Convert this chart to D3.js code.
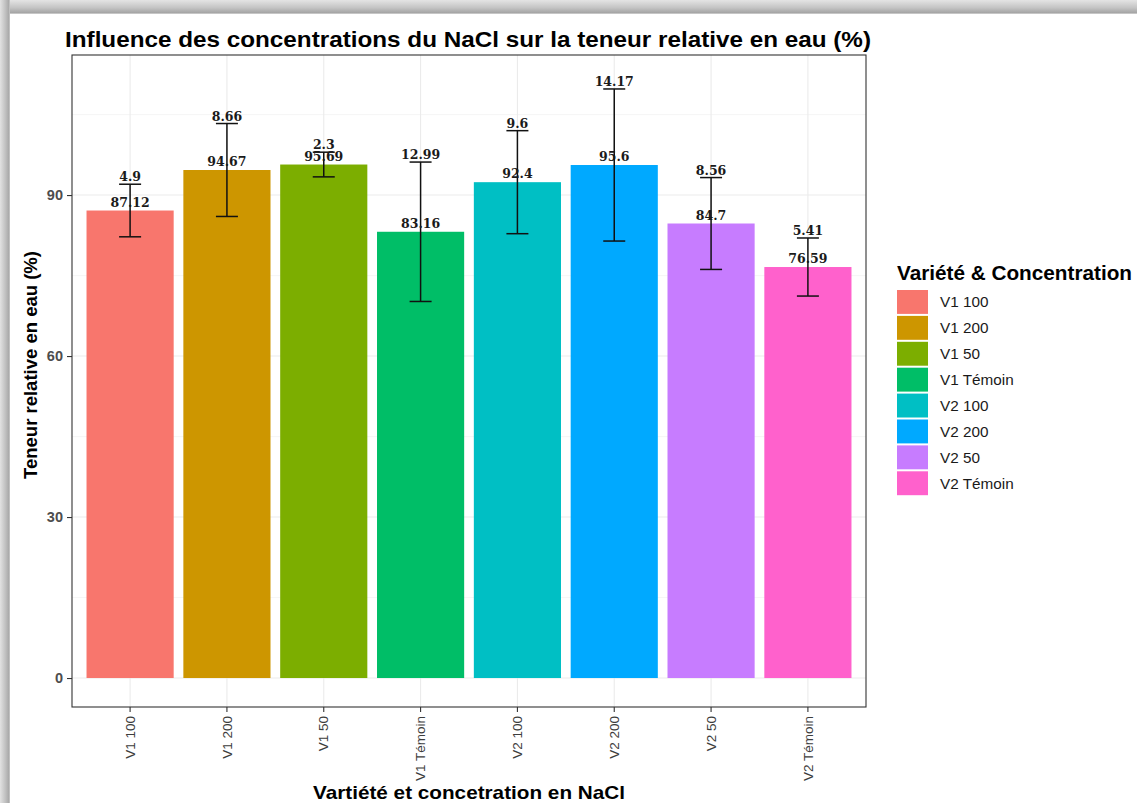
<!DOCTYPE html>
<html>
<head>
<meta charset="utf-8">
<script src="https://cdn.jsdelivr.net/npm/d3@7"></script>
<style>
  html, body { margin: 0; padding: 0; background: #ffffff; }
  svg { display: block; }
</style>
</head>
<body>
<svg id="chart" width="1137" height="803"></svg>
<script>
// Teneur relative en eau par variété et concentration de NaCl
const categories = ["V1 100", "V1 200", "V1 50", "V1 Témoin", "V2 100", "V2 200", "V2 50", "V2 Témoin"];
const means      = [87.12, 94.67, 95.69, 83.16, 92.4, 95.6, 84.7, 76.59];
const sds        = [4.9, 8.66, 2.3, 12.99, 9.6, 14.17, 8.56, 5.41];
const colors     = ["#F8766D", "#CD9600", "#7CAE00", "#00BE67", "#00BFC4", "#00A9FF", "#C77CFF", "#FF61CC"];
const yTicks     = [0, 30, 60, 90];
const yMinor     = [15, 45, 75, 105];

const titleText   = "Influence des concentrations du NaCl sur la teneur relative en eau (%)";
const xTitle      = "Vartiété et concetration en NaCl";
const yTitle      = "Teneur relative en eau (%)";
const legendTitle = "Variété & Concentration";

const rows = categories.map((c, i) => ({ cat: c, mean: means[i], sd: sds[i], color: colors[i] }));

const W = 1137, H = 803;
const panel = { left: 72, right: 866, top: 55, bottom: 707 };

const svg = d3.select("#chart");
const defs = svg.append("defs");

// page frame: soft grey edges along the top and the left
const gTop = defs.append("linearGradient").attr("id", "edgeTop").attr("x1", 0).attr("y1", 0).attr("x2", 0).attr("y2", 1);
gTop.append("stop").attr("offset", "0%").attr("stop-color", "#e4e4e4");
gTop.append("stop").attr("offset", "55%").attr("stop-color", "#c4c4c4");
gTop.append("stop").attr("offset", "90%").attr("stop-color", "#a6a6a6");
gTop.append("stop").attr("offset", "100%").attr("stop-color", "#d8d8d8");
const gLeft = defs.append("linearGradient").attr("id", "edgeLeft").attr("x1", 0).attr("y1", 0).attr("x2", 1).attr("y2", 0);
gLeft.append("stop").attr("offset", "0%").attr("stop-color", "#e2e2e2");
gLeft.append("stop").attr("offset", "55%").attr("stop-color", "#c0c0c0");
gLeft.append("stop").attr("offset", "90%").attr("stop-color", "#a8a8a8");
gLeft.append("stop").attr("offset", "100%").attr("stop-color", "#d8d8d8");

svg.append("rect").attr("width", W).attr("height", H).attr("fill", "#ffffff");
svg.append("rect").attr("x", 0).attr("y", 0).attr("width", W).attr("height", 14).attr("fill", "url(#edgeTop)");
svg.append("rect").attr("x", 0).attr("y", 0).attr("width", 10).attr("height", H).attr("fill", "url(#edgeLeft)");

// scales
const x = d3.scaleBand()
  .domain(categories)
  .range([panel.left, panel.right])
  .paddingInner(0.1)
  .paddingOuter(0.15);

const y = d3.scaleLinear()
  .domain([-5.4, 116.1])
  .range([panel.bottom, panel.top]);

// grid
const grid = svg.append("g");
grid.selectAll("line.minor").data(yMinor).join("line")
  .attr("x1", panel.left).attr("x2", panel.right)
  .attr("y1", d => y(d)).attr("y2", d => y(d))
  .attr("stroke", "#f4f4f4").attr("stroke-width", 0.8);
grid.selectAll("line.major").data(yTicks).join("line")
  .attr("x1", panel.left).attr("x2", panel.right)
  .attr("y1", d => y(d)).attr("y2", d => y(d))
  .attr("stroke", "#ebebeb").attr("stroke-width", 1.1);
grid.selectAll("line.vmajor").data(categories).join("line")
  .attr("x1", d => x(d) + x.bandwidth() / 2).attr("x2", d => x(d) + x.bandwidth() / 2)
  .attr("y1", panel.top).attr("y2", panel.bottom)
  .attr("stroke", "#ebebeb").attr("stroke-width", 1.1);

// bars
svg.append("g").selectAll("rect").data(rows).join("rect")
  .attr("x", d => x(d.cat))
  .attr("width", x.bandwidth())
  .attr("y", d => y(d.mean))
  .attr("height", d => y(0) - y(d.mean))
  .attr("fill", d => d.color);

// error bars (mean ± sd)
const capW = 22;
const eb = svg.append("g").attr("stroke", "#111111").attr("stroke-width", 1.5);
rows.forEach(d => {
  const cx = x(d.cat) + x.bandwidth() / 2;
  eb.append("line").attr("x1", cx).attr("x2", cx).attr("y1", y(d.mean + d.sd)).attr("y2", y(d.mean - d.sd));
  eb.append("line").attr("x1", cx - capW / 2).attr("x2", cx + capW / 2).attr("y1", y(d.mean + d.sd)).attr("y2", y(d.mean + d.sd));
  eb.append("line").attr("x1", cx - capW / 2).attr("x2", cx + capW / 2).attr("y1", y(d.mean - d.sd)).attr("y2", y(d.mean - d.sd));
});

// value labels: mean above the bar, sd above the upper cap
const labelFont = "'DejaVu Serif', 'Liberation Serif', serif";
const lab = svg.append("g")
  .attr("font-family", labelFont).attr("font-weight", "bold").attr("font-size", 12.5)
  .attr("fill", "#1a1a1a").attr("text-anchor", "middle");
lab.selectAll("text.m").data(rows).join("text")
  .attr("x", d => x(d.cat) + x.bandwidth() / 2)
  .attr("y", d => y(d.mean) - 4)
  .text(d => d.mean);
lab.selectAll("text.s").data(rows).join("text")
  .attr("x", d => x(d.cat) + x.bandwidth() / 2)
  .attr("y", d => y(d.mean + d.sd) - 3)
  .text(d => d.sd);

// panel border
svg.append("rect")
  .attr("x", panel.left).attr("y", panel.top)
  .attr("width", panel.right - panel.left).attr("height", panel.bottom - panel.top)
  .attr("fill", "none").attr("stroke", "#333333").attr("stroke-width", 1.1);

// axes
const sans = "'Liberation Sans', Arial, sans-serif";

const yAxis = svg.append("g")
  .attr("transform", `translate(${panel.left},0)`)
  .call(d3.axisLeft(y).tickValues(yTicks).tickSize(5).tickPadding(4));
yAxis.select(".domain").remove();
yAxis.selectAll(".tick line").attr("stroke", "#333333").attr("stroke-width", 1.1);
yAxis.selectAll(".tick text")
  .attr("font-family", sans).attr("font-size", 14.5).attr("font-weight", "bold").attr("fill", "#4d4d4d");

const xAxis = svg.append("g")
  .attr("transform", `translate(0,${panel.bottom})`)
  .call(d3.axisBottom(x).tickSize(5));
xAxis.select(".domain").remove();
xAxis.selectAll(".tick line").attr("stroke", "#333333").attr("stroke-width", 1.1);
xAxis.selectAll(".tick text")
  .attr("font-family", sans).attr("font-size", 13.5).attr("fill", "#3d3d3d")
  .attr("transform", "rotate(-90)")
  .attr("text-anchor", "end")
  .attr("x", -9).attr("y", 0).attr("dy", "0.35em");

// titles
svg.append("text")
  .attr("x", 65).attr("y", 47)
  .attr("font-family", sans).attr("font-weight", "bold").attr("font-size", 21.5)
  .attr("fill", "#000000")
  .attr("textLength", 806).attr("lengthAdjust", "spacingAndGlyphs")
  .text(titleText);

svg.append("text")
  .attr("x", (panel.left + panel.right) / 2).attr("y", 799)
  .attr("text-anchor", "middle")
  .attr("font-family", sans).attr("font-weight", "bold").attr("font-size", 19)
  .attr("fill", "#000000")
  .attr("textLength", 312).attr("lengthAdjust", "spacingAndGlyphs")
  .text(xTitle);

svg.append("text")
  .attr("transform", `translate(37,365) rotate(-90)`)
  .attr("text-anchor", "middle")
  .attr("font-family", sans).attr("font-weight", "bold").attr("font-size", 18.5)
  .attr("fill", "#000000")
  .attr("textLength", 228).attr("lengthAdjust", "spacingAndGlyphs")
  .text(yTitle);

// legend
const legend = svg.append("g").attr("transform", "translate(897,0)");
legend.append("text")
  .attr("x", 0).attr("y", 280)
  .attr("font-family", sans).attr("font-weight", "bold").attr("font-size", 19.5)
  .attr("fill", "#000000")
  .attr("textLength", 235).attr("lengthAdjust", "spacingAndGlyphs")
  .text(legendTitle);
const ly = d3.scaleBand().domain(categories).range([289, 289 + 8 * 25.9]).paddingInner(0);
legend.selectAll("rect").data(rows).join("rect")
  .attr("x", 0).attr("y", d => ly(d.cat) + 1)
  .attr("width", 31).attr("height", ly.bandwidth() - 2)
  .attr("fill", d => d.color);
legend.selectAll("text.item").data(rows).join("text")
  .attr("class", "item")
  .attr("x", 43).attr("y", d => ly(d.cat) + ly.bandwidth() / 2)
  .attr("dy", "0.35em")
  .attr("font-family", sans).attr("font-size", 15.3).attr("fill", "#1a1a1a")
  .text(d => d.cat);
</script>
</body>
</html>
